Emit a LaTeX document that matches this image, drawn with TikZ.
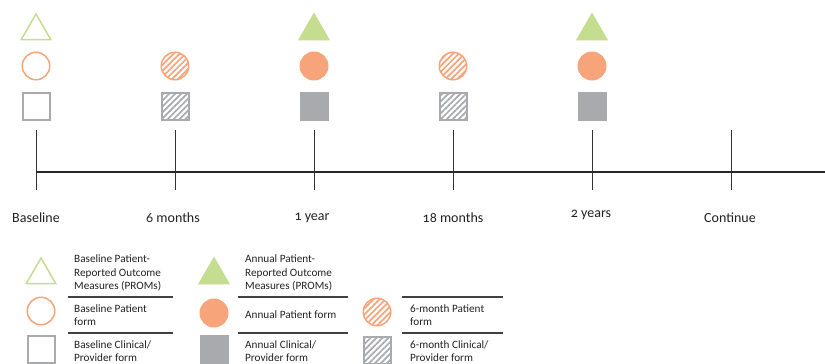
\documentclass[tikz,border=0pt]{standalone}
\usepackage{fontspec}
\setmainfont{Carlito}
\newfontfamily\oldnum[Numbers=OldStyle]{Carlito}
\usepackage{tikz}
\usetikzlibrary{shapes.geometric}
\usetikzlibrary{patterns.meta}
\definecolor{promgreen}{HTML}{C4DD8E}
\definecolor{formorange}{HTML}{F7A47A}
\definecolor{clingray}{HTML}{A9AAAD}
\definecolor{txtgray}{HTML}{222222}
\tikzstyle{tick}=[draw=black!80, line width=0.8pt]
\tikzstyle{axis}=[draw=black!85, line width=2.2pt]
\tikzstyle{sep}=[draw=black!75, line width=1.3pt]
\tikzstyle{tri}=[regular polygon, regular polygon sides=3, inner sep=0pt, minimum size=34pt, line width=1.5pt]
\tikzstyle{circ}=[circle, inner sep=0pt, minimum size=27.5pt, line width=1.5pt]
\tikzstyle{sq}=[rectangle, inner sep=0pt, minimum size=27pt, line width=2pt]
\tikzstyle{hatch}=[pattern={Lines[angle=45, distance=4.2pt, line width=1.7pt]}]
\tikzstyle{lab}=[font=\oldnum\fontsize{14}{16}\selectfont, text=txtgray]
\tikzstyle{legtext}=[anchor=west, align=left, inner sep=0pt, font=\fontsize{11.2}{13.6}\selectfont, text=txtgray]

\begin{document}
\begin{tikzpicture}[x=1pt, y=-1pt]
	\useasboundingbox (0,0) rectangle (825,364);
	% timeline
	\coordinate (lstart) at (36,172);
	\coordinate (lend) at (825,172);
	\draw[axis] (lstart) -- (lend);
	\draw (36,130) coordinate (t0) (36,190) coordinate (b0);
	\draw (175,130) coordinate (t1) (175,190) coordinate (b1);
	\draw (314,130) coordinate (t2) (314,190) coordinate (b2);
	\draw (453,130) coordinate (t3) (453,190) coordinate (b3);
	\draw (592,130) coordinate (t4) (592,190) coordinate (b4);
	\draw (731,130) coordinate (t5) (731,190) coordinate (b5);
	\draw[tick] (t0) -- (b0);
	\draw[tick] (t1) -- (b1);
	\draw[tick] (t2) -- (b2);
	\draw[tick] (t3) -- (b3);
	\draw[tick] (t4) -- (b4);
	\draw[tick] (t5) -- (b5);
	\draw (36,218) node[lab] (l0) {Baseline};
	\draw (173,218) node[lab] (l1) {6 months};
	\draw (312,218) node[lab] (l2) {1 year};
	\draw (453,218) node[lab] (l3) {18 months};
	\draw (591,215) node[lab] (l4) {2 years};
	\draw (730,218) node[lab] (l5) {Continue};
	% forms at each visit
	\draw (36,31) node[tri, draw=promgreen] (tri0) {};
	\draw (36,66) node[circ, draw=formorange] (circ0) {};
	\draw (36,106) node[sq, draw=clingray] (sq0) {};
	\draw (175,66) node[circ, draw=formorange, hatch, pattern color=formorange] (circ1) {};
	\draw (175,106) node[sq, draw=clingray, hatch, pattern color=clingray] (sq1) {};
	\draw (314,31) node[tri, draw=promgreen, fill=promgreen] (tri2) {};
	\draw (314,66) node[circ, draw=formorange, fill=formorange] (circ2) {};
	\draw (314,106) node[sq, draw=clingray, fill=clingray] (sq2) {};
	\draw (453,66) node[circ, draw=formorange, hatch, pattern color=formorange] (circ3) {};
	\draw (453,106) node[sq, draw=clingray, hatch, pattern color=clingray] (sq3) {};
	\draw (592,31) node[tri, draw=promgreen, fill=promgreen] (tri4) {};
	\draw (592,66) node[circ, draw=formorange, fill=formorange] (circ4) {};
	\draw (592,106) node[sq, draw=clingray, fill=clingray] (sq4) {};
	% legend
	\draw (41,275) node[tri, draw=promgreen] (ktri1) {};
	\draw (41,311) node[circ, draw=formorange] (kcirc1) {};
	\draw (41,349) node[sq, draw=clingray] (ksq1) {};
	\draw (214,275) node[tri, draw=promgreen, fill=promgreen] (ktri2) {};
	\draw (214,313) node[circ, draw=formorange, fill=formorange] (kcirc2) {};
	\draw (214,349) node[sq, draw=clingray, fill=clingray] (ksq2) {};
	\draw (377,312) node[circ, draw=formorange, hatch, pattern color=formorange] (kcirc3) {};
	\draw (377,350) node[sq, draw=clingray, hatch, pattern color=clingray] (ksq3) {};
	\draw (74,273) node[legtext] (ktxt1) {Baseline Patient-\\Reported Outcome\\Measures (PROMs)};
	\draw (74,315) node[legtext] (ktxt2) {Baseline Patient\\form};
	\draw (74,351) node[legtext] (ktxt3) {Baseline Clinical/\\Provider form};
	\draw (245,273) node[legtext] (ktxt4) {Annual Patient-\\Reported Outcome\\Measures (PROMs)};
	\draw (245,315) node[legtext] (ktxt5) {Annual Patient form};
	\draw (245,351) node[legtext] (ktxt6) {Annual Clinical/\\Provider form};
	\draw (410,315) node[legtext] (ktxt7) {6-month Patient\\form};
	\draw (410,351) node[legtext] (ktxt8) {6-month Clinical/\\Provider form};
	\coordinate (s1a) at (68,297);  \coordinate (s1b) at (173,297);
	\coordinate (s2a) at (68,333);  \coordinate (s2b) at (173,333);
	\coordinate (s3a) at (238,297); \coordinate (s3b) at (348,297);
	\coordinate (s4a) at (238,333); \coordinate (s4b) at (348,333);
	\coordinate (s5a) at (402,297); \coordinate (s5b) at (503,297);
	\coordinate (s6a) at (402,333); \coordinate (s6b) at (503,333);
	\draw[sep] (s1a) -- (s1b);
	\draw[sep] (s2a) -- (s2b);
	\draw[sep] (s3a) -- (s3b);
	\draw[sep] (s4a) -- (s4b);
	\draw[sep] (s5a) -- (s5b);
	\draw[sep] (s6a) -- (s6b);
\end{tikzpicture}
\end{document}
